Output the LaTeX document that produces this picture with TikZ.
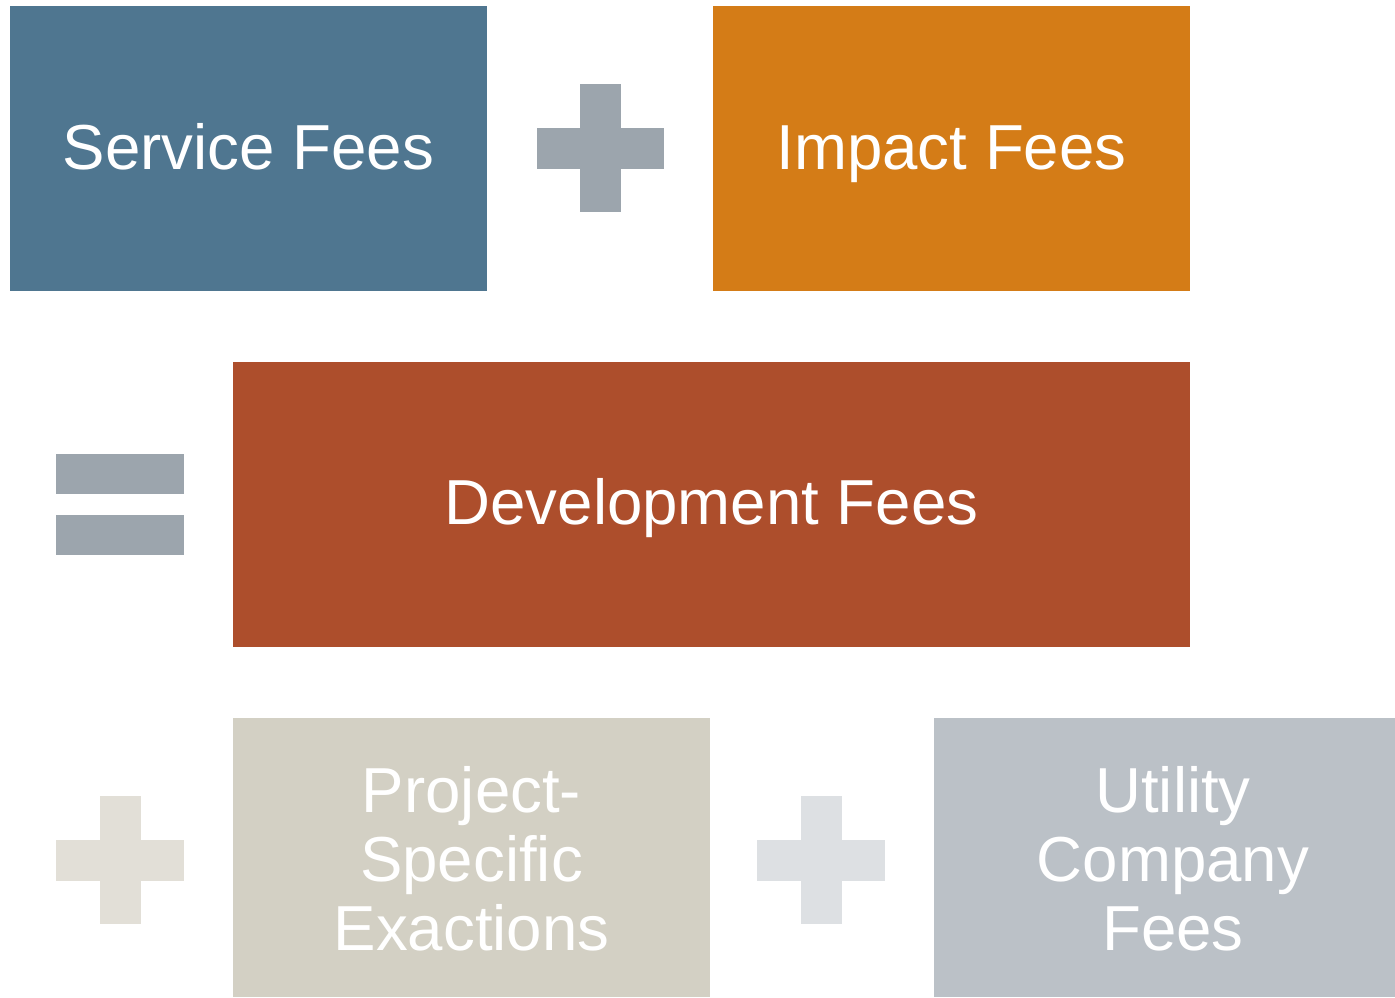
\documentclass[tikz,border=0pt]{standalone}
\usepackage{fontspec}
\setmainfont{Liberation Sans}
\definecolor{cService}{HTML}{4F7690}
\definecolor{cImpact}{HTML}{D47C17}
\definecolor{cDev}{HTML}{AD4E2C}
\definecolor{cProj}{HTML}{D3D0C4}
\definecolor{cUtil}{HTML}{BBC1C7}
\definecolor{cOp}{HTML}{9CA5AD}
\definecolor{cOpA}{HTML}{E2DFD7}
\definecolor{cOpB}{HTML}{DDE0E3}
\begin{document}
\begin{tikzpicture}[x=0.5pt,y=-0.5pt,
  box/.style={inner sep=0pt, outer sep=0pt, text=white, align=center,
    font=\fontsize{31.8}{34.5}\selectfont}]
\useasboundingbox (0,0) rectangle (1395,997);
% boxes
\path[fill=cService] (10,6) rectangle (487,291);
\node[box,anchor=base] (service) at (248.5,169.5) {Service Fees};
\path[fill=cImpact] (713,6) rectangle (1190,291);
\node[box,anchor=base] (impact) at (951.5,169.5) {Impact Fees};
\path[fill=cDev] (233,362) rectangle (1190,647);
\node[box,anchor=base] (dev) at (711.5,524) {Development Fees};
\path[fill=cProj] (233,718) rectangle (710,997);
\node[box] (proj) at (471.5,859) {Project-\\Specific\\Exactions};
\path[fill=cUtil] (934,718) rectangle (1395,997);
\node[box] (util) at (1173,859) {Utility\\Company\\Fees};
% plus 1
\path[fill=cOp] (580,84) rectangle (621,212);
\path[fill=cOp] (537,128) rectangle (664,169);
% equals
\path[fill=cOp] (56,454) rectangle (184,494);
\path[fill=cOp] (56,515) rectangle (184,555);
% plus 2
\path[fill=cOpA] (100,796) rectangle (141,924);
\path[fill=cOpA] (56,840) rectangle (184,881);
% plus 3
\path[fill=cOpB] (801,796) rectangle (842,924);
\path[fill=cOpB] (757,840) rectangle (885,881);
\end{tikzpicture}
\end{document}
